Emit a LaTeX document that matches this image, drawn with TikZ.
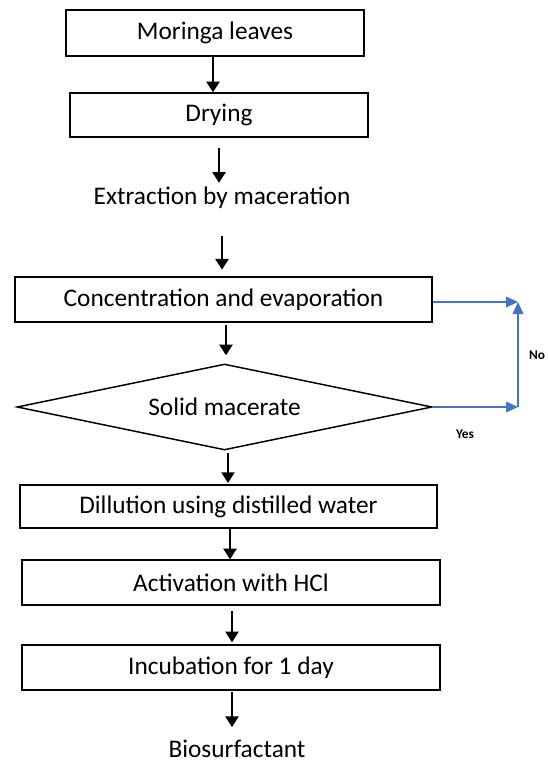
\documentclass[tikz,border=0pt]{standalone}
\usepackage{fontspec}
\setmainfont{Carlito}
\usetikzlibrary{arrows.meta,shapes.geometric}
\definecolor{flowblue}{RGB}{68,114,196}
\begin{document}
\begin{tikzpicture}[x=0.75pt,y=-0.75pt,
  box/.style={draw=black,line width=1.1pt,inner sep=0pt,font=\fontsize{19}{22}\selectfont},
  lbl/.style={inner sep=0pt,font=\fontsize{19}{22}\selectfont},
  dia/.style={diamond,aspect=4.83,draw=black,line width=1.1pt,inner sep=0pt,font=\fontsize{19}{22}\selectfont},
  arr/.style={line width=1.1pt,-{Triangle[width=10pt,length=8pt]}},
  barr/.style={draw=flowblue,line width=1.2pt,-{Triangle[width=8pt,length=9pt]}},
  small/.style={inner sep=0pt,font=\fontsize{10}{12}\selectfont\bfseries}]
\useasboundingbox (0,0) rectangle (547,767);
% nodes
\node[box,minimum width={298*0.75pt},minimum height={46*0.75pt}] (m) at (215,33) {Moringa leaves};
\node[box,minimum width={298*0.75pt},minimum height={44*0.75pt}] (d) at (219,115) {Drying};
\node[lbl,minimum height={30*0.75pt}] (e) at (222,198) {Extraction by maceration};
\node[box,minimum width={417*0.75pt},minimum height={45*0.75pt}] (c) at (223.5,299.5) {Concentration and evaporation};
\node[dia,minimum width={415*0.75pt},minimum height={86*0.75pt}] (s) at (224.5,407) {Solid macerate};
\node[box,minimum width={417*0.75pt},minimum height={43*0.75pt}] (dl) at (228.5,506.5) {Dillution using distilled water};
\node[box,minimum width={418*0.75pt},minimum height={45*0.75pt}] (ac) at (231,582.5) {Activation with HCl};
\node[box,minimum width={418*0.75pt},minimum height={45*0.75pt}] (in) at (231,667.5) {Incubation for 1 day};
\node[lbl,minimum height={30*0.75pt}] (b) at (237,749) {Biosurfactant};
% arrow x positions
\coordinate (x1) at (213,0);
\coordinate (x2) at (219,0);
\coordinate (x3) at (222,0);
\coordinate (x4) at (226,0);
\coordinate (x5) at (228,0);
\coordinate (x6) at (230,0);
\coordinate (x7) at (232,0);
\coordinate (x8) at (232,0);
% black arrows
\draw[arr] (m.south -| x1) -- (d.north -| x1);
\draw[arr,shorten <=7.5pt] (d.south -| x2) -- (e.north -| x2);
\draw[arr,shorten <=17pt,shorten >=5pt] (e.south -| x3) -- (c.north -| x3);
\draw[arr,shorten <=2pt,shorten >=6pt] (c.south -| x4) -- (s.north -| x4);
\draw[arr,shorten <=2pt,shorten >=1pt] (s.south -| x5) -- (dl.north -| x5);
\draw[arr] (dl.south -| x6) -- (ac.north -| x6);
\draw[arr,shorten <=4pt,shorten >=1.5pt] (ac.south -| x7) -- (in.north -| x7);
\draw[arr,shorten <=1pt,shorten >=5pt] (in.south -| x8) -- (b.north -| x8);
% blue loop
\coordinate (nc) at (518,302);
\coordinate (yc) at (518,407);
\draw[barr] (c.east |- nc) -- (nc);
\draw[barr] (s.east) -- (yc);
\draw[barr] (yc) -- (nc);
\node[small] (no) at (537,355) {No};
\node[small] (yes) at (465,434) {Yes};
\end{tikzpicture}
\end{document}
